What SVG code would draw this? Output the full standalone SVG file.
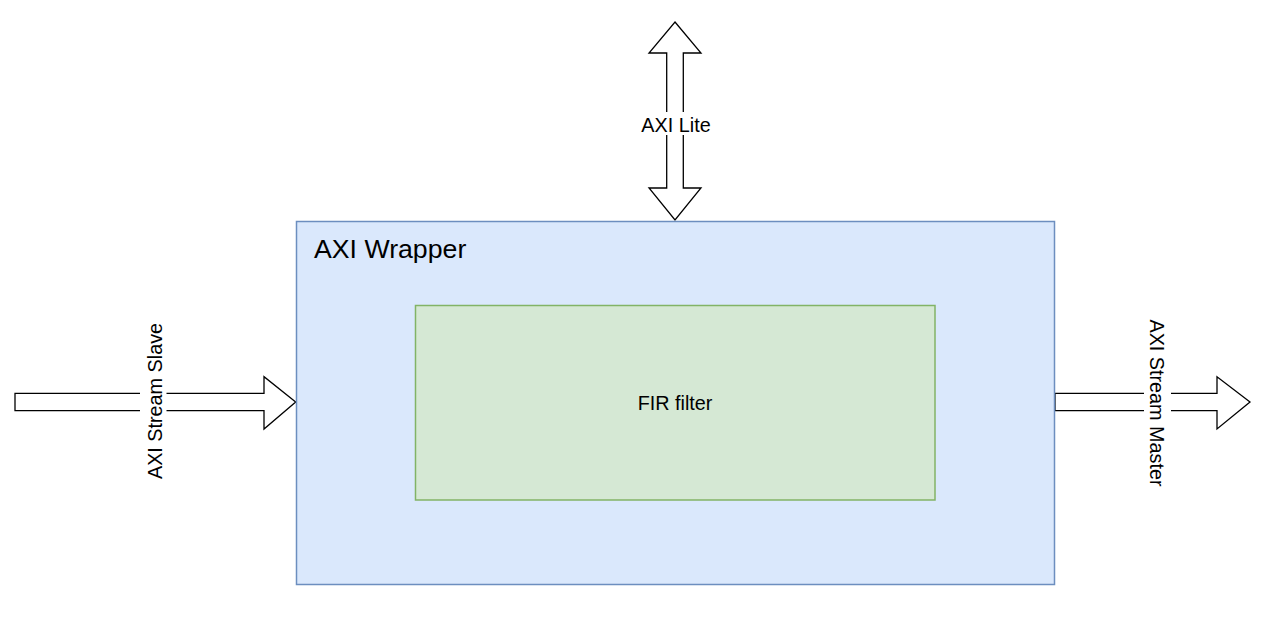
<svg xmlns="http://www.w3.org/2000/svg" width="1276" height="644" viewBox="0 0 1276 644">
<style>
.arrow{fill:#ffffff;stroke:#000000;stroke-width:1.3;stroke-linejoin:miter}
.lbl{font-family:"Liberation Sans",Arial,sans-serif;font-size:19.8px;fill:#000000}
.bg{fill:#ffffff}
</style>
<rect width="1276" height="644" fill="#ffffff"/>
<g id="connectors">
  <g id="axi-lite">
    <polygon class="arrow" points="675,22 701,53 683.3,53 683.3,188 701,188 675,220 649,188 666.7,188 666.7,53 649,53"/>
    <rect class="bg" x="640" y="112" width="72" height="23"/>
    <text class="lbl" x="676" y="131.5" text-anchor="middle">AXI Lite</text>
  </g>
  <g id="axis-slave">
    <polygon class="arrow" points="15,393.3 264,393.3 264,376.7 295.7,402 264,429 264,410.7 15,410.7"/>
    <rect class="bg" x="140" y="390" width="26.5" height="24"/>
    <text class="lbl" transform="translate(162,401) rotate(-90)" text-anchor="middle">AXI Stream Slave</text>
  </g>
  <g id="axis-master">
    <polygon class="arrow" points="1055,393.3 1217,393.3 1217,376.7 1250,402 1217,429 1217,410.7 1055,410.7"/>
    <rect class="bg" x="1144" y="390" width="27" height="24"/>
    <text class="lbl" transform="translate(1150,403) rotate(90)" text-anchor="middle">AXI Stream Master</text>
  </g>
</g>
<g id="axi-wrapper">
  <rect x="296.5" y="221.5" width="758" height="363" fill="#dae8fc" stroke="#6c8ebf" stroke-width="1.5"/>
  <text x="314" y="257.5" font-family="'Liberation Sans',Arial,sans-serif" font-size="26.7" fill="#000000">AXI Wrapper</text>
</g>
<g id="fir-filter">
  <rect x="415.5" y="305.5" width="519.5" height="194.5" fill="#d5e8d4" stroke="#82b366" stroke-width="1.5"/>
  <text class="lbl" x="675" y="410" text-anchor="middle">FIR filter</text>
</g>
</svg>
